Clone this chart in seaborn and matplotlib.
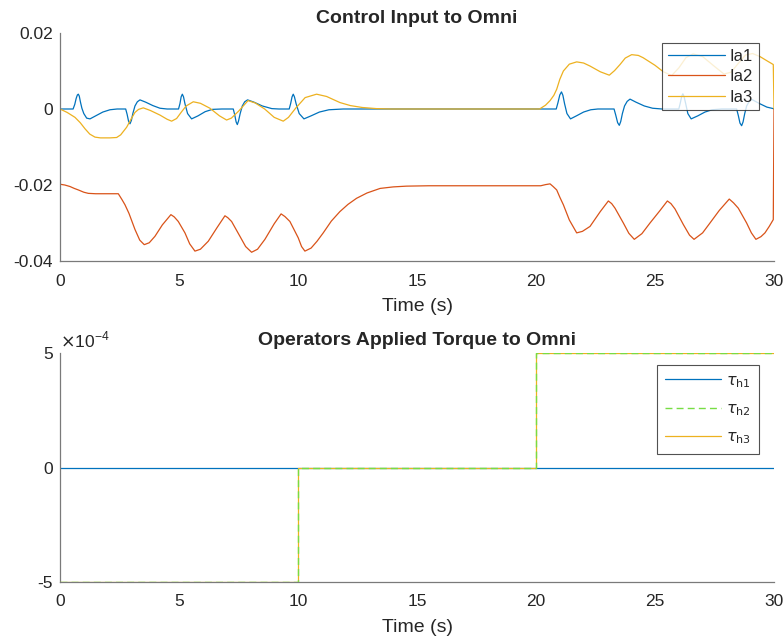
import numpy as np
import pandas as pd
import matplotlib
matplotlib.use("Agg")
import matplotlib.pyplot as plt
import seaborn as sns

# ---------------- data ----------------
ia1_t = [0, 0.55, 0.62, 0.68, 0.73, 0.77, 0.81, 0.86, 0.92, 1.0, 1.12, 1.26, 1.5, 1.8, 2.1, 2.4,
         2.76, 2.82, 2.88, 2.94, 3.0, 3.06, 3.15, 3.25, 3.36, 3.6, 3.9, 4.2, 4.5,
         4.98, 5.04, 5.09, 5.14, 5.19, 5.25, 5.36, 5.53, 5.8, 6.1, 6.4, 6.8,
         7.28, 7.34, 7.4, 7.45, 7.5, 7.57, 7.66, 7.76, 7.88, 8.15, 8.5, 8.9, 9.2,
         9.63, 9.69, 9.75, 9.8, 9.85, 9.92, 10.05, 10.25, 10.55, 10.9, 11.3, 11.9,
         20.85, 20.92, 21.0, 21.07, 21.13, 21.2, 21.3, 21.45, 21.7, 22.0, 22.3, 22.6,
         23.28, 23.35, 23.43, 23.5, 23.56, 23.63, 23.72, 23.83, 23.95, 24.2, 24.55, 24.9, 25.3,
         26.0, 26.06, 26.12, 26.17, 26.22, 26.29, 26.38, 26.52, 26.8, 27.1, 27.4, 27.8,
         28.43, 28.5, 28.57, 28.64, 28.7, 28.77, 28.85, 28.95, 29.07, 29.4, 29.7, 29.97, 30.0]
ia1_v = [0, 0, 0.0012, 0.0028, 0.0037, 0.0039, 0.0034, 0.0018, 0.0002, -0.0012, -0.0024, -0.0026,
         -0.0018, -0.0008, -0.0002, 0,
         0, -0.0014, -0.0032, -0.0039, -0.0030, -0.0012, 0.0008, 0.0019, 0.0024, 0.0018, 0.0009,
         0.0002, 0,
         0, 0.0014, 0.0032, 0.0039, 0.0032, 0.0014, -0.0012, -0.0026, -0.0018, -0.0007, -0.0001, 0,
         0, -0.0015, -0.0034, -0.0041, -0.0032, -0.0012, 0.0008, 0.0019, 0.0024, 0.0018, 0.0008,
         0.0001, 0,
         0, 0.0014, 0.0032, 0.0039, 0.0032, 0.0014, -0.0012, -0.0026, -0.0018, -0.0008, -0.0002, 0,
         0, 0.0016, 0.0037, 0.0045, 0.0036, 0.0014, -0.0012, -0.0026, -0.0018, -0.0008, -0.0002, 0,
         0, -0.0016, -0.0036, -0.0043, -0.0033, -0.0012, 0.0008, 0.0020, 0.0026, 0.0018, 0.0008,
         0.0002, 0,
         0, 0.0015, 0.0033, 0.0040, 0.0033, 0.0014, -0.0012, -0.0026, -0.0018, -0.0008, -0.0002, 0,
         0, -0.0017, -0.0037, -0.0044, -0.0034, -0.0012, 0.0008, 0.0019, 0.0025, 0.0014, 0.0005,
         0.0001, 0]

ia2_t = [0, 0.2, 0.42, 0.6, 0.77, 1.0, 1.19, 1.5, 2.0, 2.45, 2.6, 2.73, 2.9,
         3.15, 3.35, 3.54, 3.75, 3.99, 4.3, 4.66, 4.8, 4.97, 5.25, 5.45, 5.67,
         5.9, 6.23, 6.6, 6.93, 7.05, 7.21, 7.56, 7.8, 8.05, 8.3, 8.61, 9.0,
         9.29, 9.45, 9.66, 10.01, 10.15, 10.29, 10.55, 10.8, 11.06, 11.4, 11.76,
         12.1, 12.46, 12.9, 13.45, 14.0, 14.56, 15.5, 20.2, 20.4, 20.59, 20.72,
         20.87, 21.0, 21.15, 21.4, 21.71, 21.95, 22.27, 22.7, 23.04, 23.18, 23.32,
         23.67, 23.9, 24.13, 24.45, 24.79, 25.2, 25.52, 25.67, 25.84, 26.19, 26.45,
         26.64, 27.0, 27.31, 27.7, 28.12, 28.3, 28.5, 28.85, 29.05, 29.24, 29.45,
         29.62, 29.8, 29.97, 30.0]
ia2_v = [-0.0198, -0.0200, -0.0204, -0.0209, -0.0213, -0.0219, -0.0222, -0.0223, -0.0223,
         -0.0223, -0.0238, -0.0252, -0.0275, -0.0317, -0.0345, -0.0357, -0.0352, -0.0335,
         -0.0305, -0.0278, -0.0284, -0.0296, -0.0326, -0.0355, -0.0374, -0.0369, -0.0348,
         -0.0312, -0.0281, -0.0286, -0.0296, -0.0335, -0.0362, -0.0377, -0.0369, -0.0343,
         -0.0302, -0.0276, -0.0283, -0.0296, -0.0339, -0.0362, -0.0374, -0.0366, -0.0348,
         -0.0326, -0.0295, -0.0270, -0.0251, -0.0235, -0.0221, -0.0209, -0.0205, -0.0203,
         -0.0202, -0.0202, -0.0199, -0.0197, -0.0204, -0.0213, -0.0232, -0.0252, -0.0292,
         -0.0326, -0.0322, -0.0309, -0.0270, -0.0242, -0.0249, -0.0261, -0.0300, -0.0327,
         -0.0343, -0.0328, -0.0300, -0.0268, -0.0242, -0.0249, -0.0263, -0.0304, -0.0332,
         -0.0343, -0.0326, -0.0300, -0.0267, -0.0237, -0.0247, -0.0261, -0.0300, -0.0326,
         -0.0343, -0.0336, -0.0326, -0.0309, -0.0291, 0.0]

ia3_t = [0, 0.3, 0.63, 0.85, 1.05, 1.25, 1.47, 1.7, 2.1, 2.38, 2.55, 2.8, 3.0, 3.15,
         3.3, 3.5, 3.8, 4.2, 4.5, 4.69, 4.9, 5.1, 5.3, 5.6, 5.9, 6.3, 6.7, 7.0, 7.2,
         7.5, 7.9, 8.2, 8.6, 9.0, 9.38, 9.6, 9.9, 10.3, 10.78, 11.2, 11.76, 12.2, 12.7,
         13.3, 13.9, 20.15, 20.4, 20.59, 20.75, 20.87, 21.0, 21.15, 21.4, 21.71, 22.0,
         22.27, 22.7, 23.08, 23.3, 23.53, 23.75, 24.02, 24.3, 24.5, 25.0, 25.35, 25.7,
         26.0, 26.3, 26.6, 27.0, 27.5, 27.9, 28.2, 28.5, 28.8, 29.1, 29.41, 29.7,
         29.97, 30.0]
ia3_v = [0, -0.0009, -0.0022, -0.0036, -0.0052, -0.0066, -0.0074, -0.0076, -0.0076,
         -0.0075, -0.0068, -0.0048, -0.0025, -0.0009, -0.0001, 0.0003, -0.0004, -0.0016,
         -0.0027, -0.0032, -0.0025, -0.0008, 0.0008, 0.0019, 0.0015, 0.0002, -0.0018,
         -0.0029, -0.0024, -0.0006, 0.0022, 0.0016, 0.0, -0.0022, -0.0032, -0.0022,
         0.0002, 0.0030, 0.0039, 0.0033, 0.0017, 0.0009, 0.0004, 0.0001, 0.0,
         0.0, 0.0010, 0.0022, 0.0036, 0.0052, 0.0078, 0.0100, 0.0118, 0.0124, 0.0121,
         0.0113, 0.0098, 0.0089, 0.0101, 0.0117, 0.0134, 0.0143, 0.0141, 0.0135, 0.0115,
         0.0098, 0.0088, 0.0108, 0.0135, 0.0145, 0.0138, 0.0112, 0.0092, 0.0097, 0.0120,
         0.0142, 0.0146, 0.0138, 0.0127, 0.0117, 0.0]

tau_t = [0, 10, 20, 30]
tau_h1 = [0, 0, 0, 0]
tau_h2 = [-5e-4, 0, 5e-4, 5e-4]
tau_h3 = [-5e-4, 0, 5e-4, 5e-4]

top_labels = ["Ia1", "Ia2", "Ia3"]
bot_labels = [r"$\tau_{\rm h1}$", r"$\tau_{\rm h2}$", r"$\tau_{\rm h3}$"]

# ---------------- style ----------------
sns.set_style("white")
plt.rcParams["font.family"] = ["Liberation Sans", "DejaVu Sans"]
plt.rcParams["mathtext.fontset"] = "dejavusans"

c_blue, c_orange, c_yellow, c_green = "#0072BD", "#D95319", "#EDB120", "#77DD44"
spine_c = "#7a7a7a"
txt_c = "#262626"

fig = plt.figure(figsize=(7.84, 6.38), dpi=100)
ax1 = fig.add_axes([60 / 784, 1 - 261 / 638, 714 / 784, 228 / 638])
ax2 = fig.add_axes([60 / 784, 1 - 582 / 638, 714 / 784, 229 / 638])

top_df = pd.concat([
    pd.DataFrame({"t": ia1_t, "v": ia1_v, "s": top_labels[0]}),
    pd.DataFrame({"t": ia2_t, "v": ia2_v, "s": top_labels[1]}),
    pd.DataFrame({"t": ia3_t, "v": ia3_v, "s": top_labels[2]}),
], ignore_index=True)
sns.lineplot(data=top_df, x="t", y="v", hue="s", hue_order=top_labels,
             palette=[c_blue, c_orange, c_yellow], estimator=None, sort=False,
             linewidth=0.9, ax=ax1)

sns.lineplot(x=tau_t, y=tau_h1, color=c_blue, linewidth=0.9, drawstyle="steps-post",
             ax=ax2, label=bot_labels[0], zorder=2)
sns.lineplot(x=tau_t, y=tau_h3, color=c_yellow, linewidth=0.9, drawstyle="steps-post",
             ax=ax2, label=bot_labels[2], zorder=3)
sns.lineplot(x=tau_t, y=tau_h2, color=c_green, linewidth=1.0, drawstyle="steps-post",
             linestyle=(0, (5, 3)), ax=ax2, label=bot_labels[1], zorder=4)

for ax in (ax1, ax2):
    ax.set_xlim(0, 30)
    ax.set_xticks([0, 5, 10, 15, 20, 25, 30])
    ax.set_xticklabels(["0", "5", "10", "15", "20", "25", "30"])
    ax.set_xlabel("Time (s)", fontsize=14, color=txt_c, labelpad=7)
    ax.set_ylabel("")
    for side in ("top", "right"):
        ax.spines[side].set_visible(False)
    for side in ("left", "bottom"):
        ax.spines[side].set_color(spine_c)
        ax.spines[side].set_linewidth(0.9)
    ax.tick_params(direction="in", length=5, width=0.9, color=spine_c,
                   labelsize=12.5, labelcolor=txt_c)
    ax.tick_params(axis="x", pad=9)
    ax.tick_params(axis="y", pad=5)
    ax.set_facecolor("white")

ax1.set_ylim(-0.04, 0.02)
ax1.set_yticks([-0.04, -0.02, 0, 0.02])
ax1.set_yticklabels(["-0.04", "-0.02", "0", "0.02"])
ax1.set_title("Control Input to Omni", fontsize=14, fontweight="bold", pad=7)

ax2.set_ylim(-5e-4, 5e-4)
ax2.set_yticks([-5e-4, 0, 5e-4])
ax2.set_yticklabels(["-5", "0", "5"])
ax2.set_title("Operators Applied Torque to Omni", fontsize=14, fontweight="bold", pad=6)
ax2.text(0.0, 1.01, r"$\times$10$^{\mathregular{-4}}$", transform=ax2.transAxes,
         ha="left", va="bottom", fontsize=12.5, color=txt_c)

leg1 = ax1.legend(loc="upper right", bbox_to_anchor=(0.979, 0.956), fontsize=12,
                  frameon=True, fancybox=False, handlelength=3.4, handletextpad=0.3,
                  borderpad=0.35, labelspacing=0.32, borderaxespad=0)
leg1.get_frame().set_edgecolor(txt_c)
leg1.get_frame().set_linewidth(0.8)

h, l = ax2.get_legend_handles_labels()
order = [l.index(b) for b in bot_labels]
leg2 = ax2.legend([h[i] for i in order], [l[i] for i in order], loc="upper right",
                  bbox_to_anchor=(0.979, 0.948), fontsize=11.5, frameon=True,
                  fancybox=False, handlelength=3.5, handletextpad=0.3, borderpad=0.5,
                  labelspacing=0.72, borderaxespad=0)
leg2.get_frame().set_edgecolor(txt_c)
leg2.get_frame().set_linewidth(0.8)

fig.savefig("out.png", dpi=100, facecolor="white")
